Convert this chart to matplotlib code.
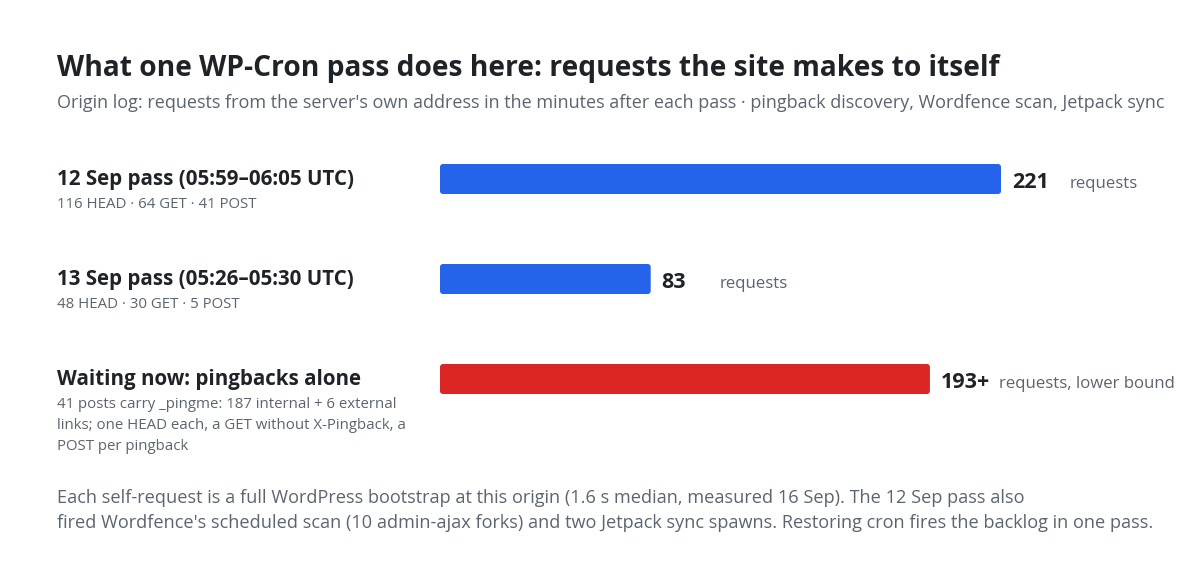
import matplotlib
matplotlib.use("Agg")
import matplotlib.pyplot as plt
from matplotlib.patches import FancyBboxPatch

plt.rcParams['font.family'] = ['Open Sans', 'DejaVu Sans']

# ---- data ----
categories = ["12 Sep pass (05:59–06:05 UTC)",
              "13 Sep pass (05:26–05:30 UTC)",
              "Waiting now: pingbacks alone"]
details = ["116 HEAD · 64 GET · 41 POST",
           "48 HEAD · 30 GET · 5 POST",
           "41 posts carry _pingme: 187 internal + 6 external\nlinks; one HEAD each, a GET without X-Pingback, a\nPOST per pingback"]
values = [221, 83, 193]
value_labels = ["221", "83", "193+"]
unit_labels = ["requests", "requests", "requests, lower bound"]
bar_colors = ["#2563eb", "#2563eb", "#dc2626"]

title = "What one WP-Cron pass does here: requests the site makes to itself"
subtitle = ("Origin log: requests from the server's own address in the minutes after each pass · "
            "pingback discovery, Wordfence scan, Jetpack sync")
footer = ["Each self-request is a full WordPress bootstrap at this origin (1.6 s median, measured 16 Sep). The 12 Sep pass also",
          "fired Wordfence's scheduled scan (10 admin-ajax forks) and two Jetpack sync spawns. Restoring cron fires the backlog in one pass."]

DARK = "#1f2328"
GRAY = "#5b6470"

W, H = 1200, 580
fig = plt.figure(figsize=(W / 100, H / 100), dpi=100)
fig.patch.set_facecolor("white")
renderer = fig.canvas.get_renderer()


def fx(x):
    return x / W


def fy(y):
    return 1 - y / H


def fit(t, target):
    bb = t.get_window_extent(renderer)
    fs = t.get_fontsize() * target / bb.width
    t.set_fontsize(fs)
    return fs


def ftext(x, y, s, size, color, weight="normal", **kw):
    return fig.text(fx(x), fy(y), s, fontsize=size, color=color, fontweight=weight,
                    ha="left", va="baseline", **kw)


# title & subtitle
t = ftext(57, 76, title, 20, DARK, "bold")
fit(t, 943)
t = ftext(57, 108, subtitle, 13, GRAY)
fit(t, 1108)

# row labels
row_label_baselines = [185, 285, 385]
lab = ftext(57, row_label_baselines[0], categories[0], 14, DARK, "bold")
lab_fs = fit(lab, 298)
for i in (1, 2):
    ftext(57, row_label_baselines[i], categories[i], lab_fs, DARK, "bold")

d0 = ftext(57, 208, details[0], 10.5, GRAY)
det_fs = fit(d0, 201)
ftext(57, 308, details[1], det_fs, GRAY)
for j, line in enumerate(details[2].split("\n")):
    ftext(57, 408 + 21 * j, line, det_fs, GRAY)

# footer
f0 = ftext(57, 503, footer[0], 12, GRAY)
foot_fs = fit(f0, 965)
ftext(57, 528, footer[1], foot_fs, GRAY)

# bars axes
px_per_unit = (1001 - 440) / 221
ax_left, ax_right = 440, 1190
ax_top, ax_bot = 129, 429
ax = fig.add_axes([fx(ax_left), fy(ax_bot), (ax_right - ax_left) / W, (ax_bot - ax_top) / H])
ax.set_xlim(0, (ax_right - ax_left) / px_per_unit)
ax.set_ylim(2.5, -0.5)
ax.axis("off")

ypos = list(range(len(values)))
bars = ax.barh(ypos, values, height=0.30, color=bar_colors)
r_px = 3.0
aspect = (1 / 100) / (1 / px_per_unit)
for b in bars:
    x0, y0 = b.get_x(), b.get_y()
    w, h = b.get_width(), b.get_height()
    b.set_visible(False)
    p = FancyBboxPatch((x0, y0), w, h,
                       boxstyle=f"round,pad=0,rounding_size={r_px / px_per_unit}",
                       mutation_aspect=aspect,
                       facecolor=b.get_facecolor(), edgecolor="none")
    ax.add_patch(p)

for i, v in enumerate(values):
    ax.annotate(value_labels[i], xy=(v, i), xytext=(11, -9), textcoords="offset pixels",
                ha="left", va="baseline", fontsize=15.5, fontweight="bold", color=DARK)
    ax.annotate(unit_labels[i], xy=(v, i), xytext=(69, -9), textcoords="offset pixels",
                ha="left", va="baseline", fontsize=12.1, color=GRAY)

fig.savefig("out.png", dpi=100, facecolor="white")
